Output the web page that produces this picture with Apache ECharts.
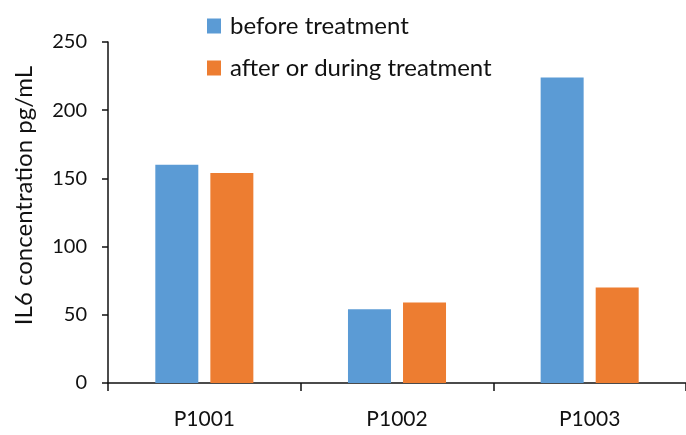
<!DOCTYPE html>
<html><head><meta charset="utf-8">
<script src="https://cdn.jsdelivr.net/npm/echarts@6/dist/echarts.min.js"></script>
<style>html,body{margin:0;padding:0;background:#fff}#c{width:686px;height:435px}</style>
</head><body><div id="c"></div>
<script>
const categories = ['P1001', 'P1002', 'P1003'];
const beforeValues = [160, 54, 224];
const afterValues = [154, 59, 70];
const yTicks = { min: 0, max: 250, interval: 50 };
const seriesNames = ['before treatment', 'after or during treatment'];
const yAxisTitle = 'IL6 concentration pg/mL';

const FONT = 'Lato';
const chart = echarts.init(document.getElementById('c'), null, { renderer: 'canvas' });
chart.setOption({
  animation: false,
  backgroundColor: '#fff',
  textStyle: { fontFamily: FONT },
  grid: { left: 108, right: 0, top: 42, bottom: 52, containLabel: false },
  legend: {
    orient: 'vertical', left: 202, top: 9,
    itemWidth: 14, itemHeight: 15, itemGap: 18,
    icon: 'rect',
    textStyle: { fontFamily: FONT, fontSize: 24, color: '#111', padding: [0, 0, 0, 4] },
    data: seriesNames
  },
  xAxis: {
    type: 'category', data: categories,
    axisLine: { lineStyle: { color: '#111', width: 1.5 } },
    axisTick: { show: true, length: 8, lineStyle: { color: '#111', width: 1.5 } },
    axisLabel: { fontFamily: FONT, fontSize: 21, color: '#111', margin: 26 }
  },
  yAxis: {
    type: 'value', min: yTicks.min, max: yTicks.max, interval: yTicks.interval,
    name: yAxisTitle, nameLocation: 'middle', nameGap: 72, nameRotate: 90,
    nameTextStyle: { fontFamily: FONT, fontSize: 24, color: '#111', padding: [0, 0, 0, 34] },
    axisLine: { show: true, lineStyle: { color: '#111', width: 1.5 } },
    axisTick: { show: true, length: 6, lineStyle: { color: '#111', width: 1.5 } },
    axisLabel: { fontFamily: FONT, fontSize: 20, color: '#111', margin: 21 },
    splitLine: { show: false }
  },
  series: [
    { name: seriesNames[0], type: 'bar', data: beforeValues, barWidth: 43, barGap: '28%',
      itemStyle: { color: '#5B9BD5' } },
    { name: seriesNames[1], type: 'bar', data: afterValues, barWidth: 43,
      itemStyle: { color: '#ED7D31' } }
  ]
});
</script></body></html>
